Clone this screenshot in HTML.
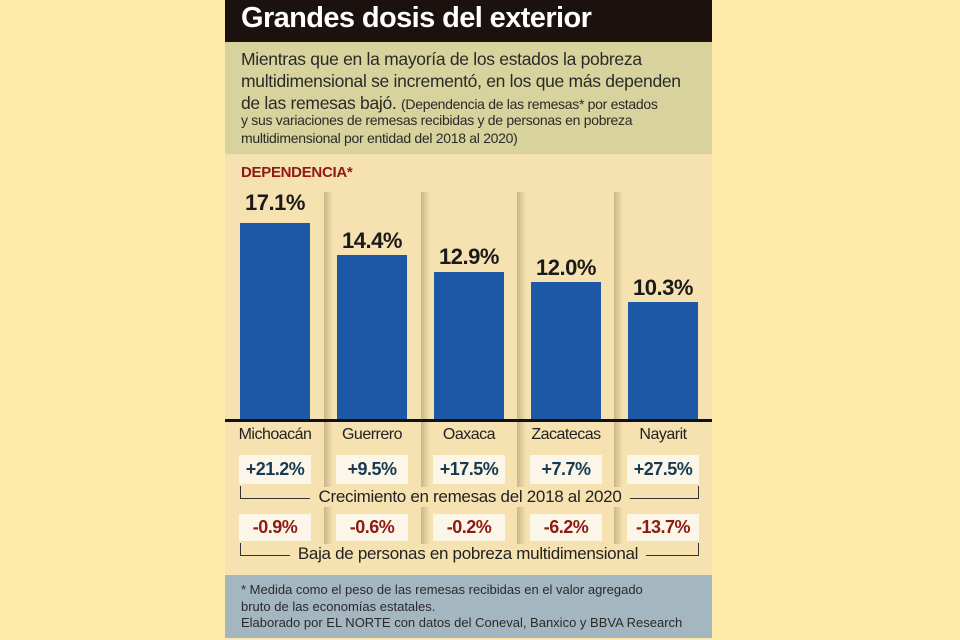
<!DOCTYPE html>
<html><head><meta charset="utf-8"><style>
body{margin:0;width:960px;height:640px;background:#fde9a8;position:relative;overflow:hidden;font-family:"Liberation Sans",sans-serif}
.a{position:absolute}
.div{position:absolute;top:192px;width:9px;height:365px;background:linear-gradient(90deg,#c9b68a,#e9d5a3 70%,#f5e2b0)}
.bar{position:absolute;width:70px;background:#1c58a6;bottom:219px}
.pct{position:absolute;width:90px;text-align:center;font-weight:bold;font-size:22px;color:#1a1a1a;letter-spacing:-0.5px}
.st{position:absolute;top:426px;width:90px;text-align:center;font-size:16px;color:#222;letter-spacing:-0.5px}
.box{position:absolute;width:72px;background:#fbf6e8;text-align:center;font-weight:bold;font-size:18px;letter-spacing:-0.5px}
</style></head><body>
<div class="a" style="left:225px;top:0;width:487px;height:42px;background:#1b1210"></div>
<div class="a" style="left:241px;top:2px;color:#fff;font-weight:bold;font-size:29px;letter-spacing:-0.6px">Grandes dosis del exterior</div>
<div class="a" style="left:225px;top:42px;width:487px;height:112px;background:#d8d39d"></div>
<div class="a" style="left:241px;top:48px;width:455px;color:#2a2a2a;font-size:17.5px;line-height:22px;letter-spacing:-0.3px">Mientras que en la mayoría de los estados la pobreza multidimensional se incrementó, en los que más dependen de las remesas bajó. <span style="font-size:14px;line-height:18px">(Dependencia de las remesas* por estados</span></div>
<div class="a" style="left:241px;top:111px;width:470px;color:#2a2a2a;font-size:14px;line-height:18px;letter-spacing:-0.3px">y sus variaciones de remesas recibidas y de personas en pobreza<br>multidimensional por entidad del 2018 al 2020)</div>
<div class="a" style="left:225px;top:154px;width:487px;height:421px;background:#f5e2b0"></div>
<div class="a" style="left:241px;top:164px;color:#8e1a14;font-size:15px;font-weight:bold;letter-spacing:-0.3px">DEPENDENCIA*</div>
<div class="div" style="left:324px"></div><div class="div" style="left:421px"></div><div class="div" style="left:517px"></div><div class="div" style="left:614px"></div>
<div class="bar" style="left:240px;top:223px;height:198px"></div>
<div class="bar" style="left:337px;top:255px;height:166px"></div>
<div class="bar" style="left:434px;top:272px;height:149px"></div>
<div class="bar" style="left:531px;top:282px;height:139px"></div>
<div class="bar" style="left:628px;top:302px;height:119px"></div>
<div class="pct" style="left:230px;top:190px">17.1%</div>
<div class="pct" style="left:327px;top:228px">14.4%</div>
<div class="pct" style="left:424px;top:244px">12.9%</div>
<div class="pct" style="left:521px;top:255px">12.0%</div>
<div class="pct" style="left:618px;top:275px">10.3%</div>
<div class="a" style="left:225px;top:419px;width:487px;height:3px;background:#111"></div>
<div class="st" style="left:230px">Michoacán</div><div class="st" style="left:327px">Guerrero</div><div class="st" style="left:424px">Oaxaca</div><div class="st" style="left:521px">Zacatecas</div><div class="st" style="left:618px">Nayarit</div>
<div class="box" style="left:239px;top:455px;height:29px;line-height:29px;color:#173a52">+21.2%</div>
<div class="box" style="left:336px;top:455px;height:29px;line-height:29px;color:#173a52">+9.5%</div>
<div class="box" style="left:433px;top:455px;height:29px;line-height:29px;color:#173a52">+17.5%</div>
<div class="box" style="left:530px;top:455px;height:29px;line-height:29px;color:#173a52">+7.7%</div>
<div class="box" style="left:627px;top:455px;height:29px;line-height:29px;color:#173a52">+27.5%</div>
<div class="a" style="left:240px;top:486px;width:457px;height:12px;border:1px solid #333;border-top:none"></div>
<div class="a" style="left:310px;top:487px;width:320px;background:#f5e2b0;text-align:center;font-size:17px;color:#222;letter-spacing:-0.3px">Crecimiento en remesas del 2018 al 2020</div>
<div class="box" style="left:239px;top:514px;height:27px;line-height:27px;color:#8e1a14">-0.9%</div>
<div class="box" style="left:336px;top:514px;height:27px;line-height:27px;color:#8e1a14">-0.6%</div>
<div class="box" style="left:433px;top:514px;height:27px;line-height:27px;color:#8e1a14">-0.2%</div>
<div class="box" style="left:530px;top:514px;height:27px;line-height:27px;color:#8e1a14">-6.2%</div>
<div class="box" style="left:627px;top:514px;height:27px;line-height:27px;color:#8e1a14">-13.7%</div>
<div class="a" style="left:240px;top:543px;width:457px;height:12px;border:1px solid #333;border-top:none"></div>
<div class="a" style="left:290px;top:544px;width:356px;background:#f5e2b0;text-align:center;font-size:17px;color:#222;letter-spacing:-0.3px">Baja de personas en pobreza multidimensional</div>
<div class="a" style="left:225px;top:575px;width:487px;height:63px;background:#a4b6c0"></div>
<div class="a" style="left:241px;top:582px;font-size:13px;line-height:16.5px;color:#2a2a2a">* Medida como el peso de las remesas recibidas en el valor agregado<br>bruto de las economías estatales.<br>Elaborado por EL NORTE con datos del Coneval, Banxico y BBVA Research</div>
</body></html>
